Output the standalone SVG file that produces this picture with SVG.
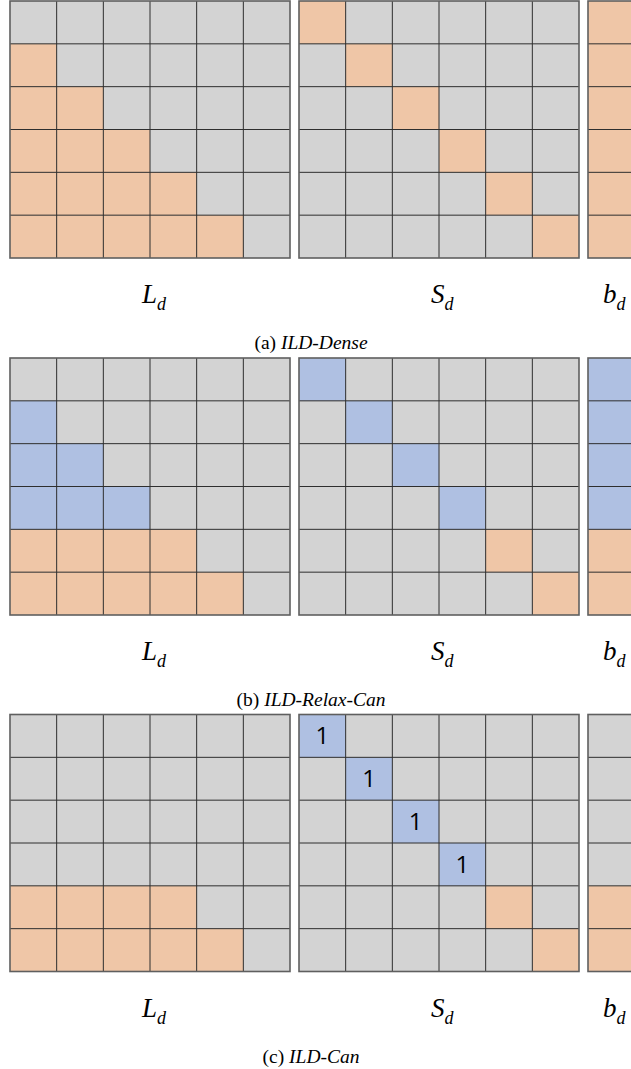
<svg xmlns="http://www.w3.org/2000/svg" xmlns:xlink="http://www.w3.org/1999/xlink" width="631" height="1069" viewBox="0 0 631 1069">
<style>
.bg{fill:#d3d3d3}
.o{fill:#efc6a7}
.b{fill:#afc0e2}
.gl{fill:none;stroke:#2e2e2e;stroke-width:1}
.frame{fill:none;stroke:#5f5f5f;stroke-width:1.6}
.lbl{font-family:"Liberation Serif",serif;font-style:italic;font-size:27px;fill:#000}
.sub{font-size:18px}
.cap{font-family:"Liberation Serif",serif;font-size:19.5px;fill:#000;text-anchor:middle}
.it{font-style:italic}
.one{font-family:"Open Sans","Liberation Sans",sans-serif;font-size:24px;fill:#000;text-anchor:middle}
</style>
<defs>
<path id="gl" class="gl" d="M0 42.83H280M0 85.67H280M0 128.5H280M0 171.33H280M0 214.17H280M46.67 0V257M93.33 0V257M140 0V257M186.67 0V257M233.33 0V257"/>
<rect id="fr" class="frame" x="0" y="0" width="280" height="257"/>
<rect id="c" width="46.67" height="42.83"/>
</defs>
<rect x="0" y="0" width="631" height="1069" fill="#fff"/>

<g id="panel-a" transform="translate(0,1)">
<g id="a-L">
<rect class="bg" x="10" y="0" width="280" height="257"/>
<rect class="o" x="10" y="42.83" width="46.67" height="42.83"/>
<rect class="o" x="10" y="85.67" width="93.33" height="42.83"/>
<rect class="o" x="10" y="128.5" width="140" height="42.83"/>
<rect class="o" x="10" y="171.33" width="186.67" height="42.83"/>
<rect class="o" x="10" y="214.17" width="233.33" height="42.83"/>
<use xlink:href="#gl" x="10"/><use xlink:href="#fr" x="10"/>
</g>
<g id="a-S">
<rect class="bg" x="299" y="0" width="280" height="257"/>
<use xlink:href="#c" class="o" x="299" y="0"/>
<use xlink:href="#c" class="o" x="345.67" y="42.83"/>
<use xlink:href="#c" class="o" x="392.33" y="85.67"/>
<use xlink:href="#c" class="o" x="439" y="128.5"/>
<use xlink:href="#c" class="o" x="485.67" y="171.33"/>
<use xlink:href="#c" class="o" x="532.33" y="214.17"/>
<use xlink:href="#gl" x="299"/><use xlink:href="#fr" x="299"/>
</g>
<g id="a-b">
<rect class="o" x="588" y="0" width="46.67" height="257"/>
<path class="gl" d="M588 42.83H640M588 85.67H640M588 128.5H640M588 171.33H640M588 214.17H640"/>
<rect class="frame" x="588" y="0" width="46.67" height="257"/>
</g>
<text class="lbl" x="142" y="302">L<tspan class="sub" dy="7">d</tspan></text>
<text class="lbl" x="431" y="302">S<tspan class="sub" dy="7">d</tspan></text>
<text class="lbl" x="603" y="302">b<tspan class="sub" dy="7">d</tspan></text>
<text class="cap" x="311" y="348">(a) <tspan class="it">ILD-Dense</tspan></text>
</g>

<g id="panel-b" transform="translate(0,358)">
<g id="b-L">
<rect class="bg" x="10" y="0" width="280" height="257"/>
<rect class="b" x="10" y="42.83" width="46.67" height="42.83"/>
<rect class="b" x="10" y="85.67" width="93.33" height="42.83"/>
<rect class="b" x="10" y="128.5" width="140" height="42.83"/>
<rect class="o" x="10" y="171.33" width="186.67" height="42.83"/>
<rect class="o" x="10" y="214.17" width="233.33" height="42.83"/>
<use xlink:href="#gl" x="10"/><use xlink:href="#fr" x="10"/>
</g>
<g id="b-S">
<rect class="bg" x="299" y="0" width="280" height="257"/>
<use xlink:href="#c" class="b" x="299" y="0"/>
<use xlink:href="#c" class="b" x="345.67" y="42.83"/>
<use xlink:href="#c" class="b" x="392.33" y="85.67"/>
<use xlink:href="#c" class="b" x="439" y="128.5"/>
<use xlink:href="#c" class="o" x="485.67" y="171.33"/>
<use xlink:href="#c" class="o" x="532.33" y="214.17"/>
<use xlink:href="#gl" x="299"/><use xlink:href="#fr" x="299"/>
</g>
<g id="b-b">
<rect class="b" x="588" y="0" width="46.67" height="171.33"/>
<rect class="o" x="588" y="171.33" width="46.67" height="85.67"/>
<path class="gl" d="M588 42.83H640M588 85.67H640M588 128.5H640M588 171.33H640M588 214.17H640"/>
<rect class="frame" x="588" y="0" width="46.67" height="257"/>
</g>
<text class="lbl" x="142" y="302">L<tspan class="sub" dy="7">d</tspan></text>
<text class="lbl" x="431" y="302">S<tspan class="sub" dy="7">d</tspan></text>
<text class="lbl" x="603" y="302">b<tspan class="sub" dy="7">d</tspan></text>
<text class="cap" x="311" y="348">(b) <tspan class="it">ILD-Relax-Can</tspan></text>
</g>

<g id="panel-c" transform="translate(0,714.5)">
<g id="c-L">
<rect class="bg" x="10" y="0" width="280" height="257"/>
<rect class="o" x="10" y="171.33" width="186.67" height="42.83"/>
<rect class="o" x="10" y="214.17" width="233.33" height="42.83"/>
<use xlink:href="#gl" x="10"/><use xlink:href="#fr" x="10"/>
</g>
<g id="c-S">
<rect class="bg" x="299" y="0" width="280" height="257"/>
<use xlink:href="#c" class="b" x="299" y="0"/>
<use xlink:href="#c" class="b" x="345.67" y="42.83"/>
<use xlink:href="#c" class="b" x="392.33" y="85.67"/>
<use xlink:href="#c" class="b" x="439" y="128.5"/>
<use xlink:href="#c" class="o" x="485.67" y="171.33"/>
<use xlink:href="#c" class="o" x="532.33" y="214.17"/>
<use xlink:href="#gl" x="299"/><use xlink:href="#fr" x="299"/>
<text class="one" x="322.3" y="29.5">1</text>
<text class="one" x="369" y="72.3">1</text>
<text class="one" x="415.7" y="115.2">1</text>
<text class="one" x="462.3" y="158">1</text>
</g>
<g id="c-b">
<rect class="bg" x="588" y="0" width="46.67" height="171.33"/>
<rect class="o" x="588" y="171.33" width="46.67" height="85.67"/>
<path class="gl" d="M588 42.83H640M588 85.67H640M588 128.5H640M588 171.33H640M588 214.17H640"/>
<rect class="frame" x="588" y="0" width="46.67" height="257"/>
</g>
<text class="lbl" x="142" y="302">L<tspan class="sub" dy="7">d</tspan></text>
<text class="lbl" x="431" y="302">S<tspan class="sub" dy="7">d</tspan></text>
<text class="lbl" x="603" y="302">b<tspan class="sub" dy="7">d</tspan></text>
<text class="cap" x="311" y="348">(c) <tspan class="it">ILD-Can</tspan></text>
</g>
</svg>
